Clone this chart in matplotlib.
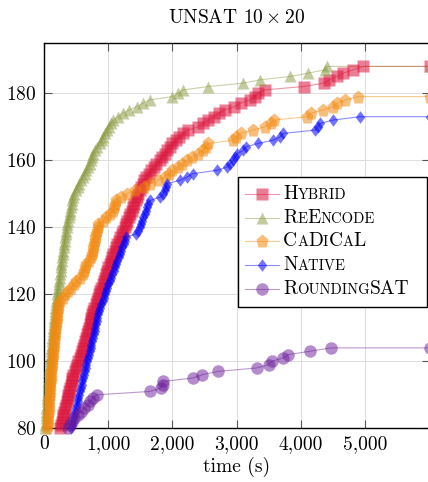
import matplotlib
matplotlib.use('Agg')
import matplotlib.pyplot as plt
from matplotlib.lines import Line2D
from matplotlib.patches import Rectangle
from matplotlib.offsetbox import DrawingArea, HPacker, TextArea, AnnotationBbox
from matplotlib.ticker import FuncFormatter

plt.rcParams['font.family'] = 'cmr10'
plt.rcParams['mathtext.fontset'] = 'cm'
plt.rcParams['axes.unicode_minus'] = False
plt.rcParams['axes.formatter.use_mathtext'] = True

TIMEOUT = 6000
START = 80  # solved-count of the first listed point (axis starts here)

# solve times (s) of the k-th solved instance, k = START, START+1, ...
hybrid_times = [255, 268, 281, 294, 307, 320, 333, 346, 360,
                372, 385, 397, 410, 422, 435, 447, 460,
                480, 500, 520, 540, 560, 578, 597, 615,
                630, 644, 658, 672, 686, 700, 714, 728, 742, 756, 770,
                788, 806, 824, 842, 860, 878, 897, 915,
                933, 951, 970, 988, 1006, 1025, 1043, 1062, 1080,
                1102, 1125, 1147, 1170, 1192, 1215,
                1235, 1256, 1277, 1298, 1319, 1340,
                1370, 1390, 1410, 1430, 1450, 1470, 1490, 1515, 1540, 1565,
                1590, 1630, 1670, 1710, 1750, 1800, 1840, 1880, 1920, 1960,
                2000, 2050, 2100, 2160, 2250, 2400, 2480, 2560, 2640, 2720,
                2820, 2960, 3060, 3200, 3280, 3330, 3440, 4040, 4350, 4440,
                4560, 4660, 4810, 4970]

reencode_times = [20, 24, 28, 31, 35, 38, 42, 46, 50, 53,
                  57, 61, 64, 68, 72, 76, 80, 84, 88, 93,
                  98, 103, 108, 115,
                  120, 126, 131, 136, 141, 146, 151, 156, 161, 166, 171, 176, 183, 190,
                  197, 205, 212, 219, 227, 234, 242, 250,
                  256, 262, 268, 274, 281, 287, 294, 300,
                  308, 316, 325, 333, 342, 351, 360,
                  369, 380, 391, 402, 413, 423, 434, 445, 455,
                  475, 500, 530, 555, 585, 610,
                  640, 665, 695, 720,
                  735, 752, 770,
                  800, 835, 875,
                  900, 925, 955, 980,
                  1010, 1045, 1080,
                  1150, 1230,
                  1330, 1450, 1545, 1650,
                  2000, 2090, 2170, 2560, 3100, 3360, 3830, 4110, 4380, 4410]

cadical_times = [55, 60, 64, 68, 72, 76, 79, 83, 86, 90,
                 93, 97, 100, 104, 108, 112, 116, 120, 125,
                 130, 135, 140, 146, 151, 156, 161, 165, 170, 175,
                 181, 187, 193, 199, 205, 211, 217, 222, 228,
                 260, 295, 330, 375,
                 420, 470, 505,
                 560, 610,
                 630, 645, 660,
                 700, 735,
                 750, 760, 770,
                 785, 795, 805, 815,
                 825, 838, 850,
                 920, 965,
                 1030, 1075,
                 1095, 1110, 1130,
                 1195, 1290,
                 1420, 1560, 1653, 1770, 1880, 1940, 2000, 2080, 2150, 2224,
                 2300, 2400, 2480, 2520, 2560, 2950, 2990, 3060, 3250, 3440,
                 3530, 3580, 4100, 4150, 4340, 4500, 4560, 4690, 4890]

native_times = [425, 440, 452, 465, 478, 490, 503, 515, 528, 540,
                553, 565, 578, 590, 603, 615, 628, 640, 653, 665,
                678, 690, 705, 720,
                732, 743, 755, 767, 778, 790, 800, 812, 823, 835, 845,
                862, 880, 897, 915, 932, 950, 968, 985,
                1005, 1025, 1045, 1068, 1090, 1110,
                1128, 1147, 1166, 1185, 1204, 1222, 1241, 1260, 1280,
                1435,
                1470, 1490, 1510, 1530, 1550, 1570, 1590, 1605, 1620,
                1655, 1810, 1860, 1880, 1900, 1915, 2120, 2230, 2320, 2700,
                2850, 2900, 2950, 2980, 3010, 3100, 3150, 3330, 3570, 3680,
                3720, 4220, 4260, 4300, 4500, 4920]

roundingsat_times = [380, 410, 440, 470, 530, 580, 625, 690, 720, 765,
                     830, 1653, 1820, 1850, 1860, 2317, 2466, 2715, 3310, 3504,
                     3546, 3726, 3804, 4141, 4468]

names = ['Hybrid', 'ReEncode', 'CaDiCaL', 'Native', 'RoundingSAT']
all_times = [hybrid_times, reencode_times, cadical_times, native_times, roundingsat_times]
colors = ['#dc143c', '#8a9a40', '#f28a10', '#0000ff', '#6a1b9a']
alphas = [0.55, 0.5, 0.55, 0.55, 0.5]
diamond = [(0, 1), (0.75, 0), (0, -1), (-0.75, 0)]
markers = ['s', '^', 'p', diamond, 'o']
msizes = [9.0, 9.0, 9.8, 9.0, 9.0]

fig = plt.figure(figsize=(4.28, 4.82), dpi=100)
ax = fig.add_axes([43.7 / 428, 53.7 / 482, 386 / 428, 385 / 482])

for times, color, a, mk, ms in zip(all_times, colors, alphas, markers, msizes):
    counts = list(range(START, START + len(times)))
    xs = times + [TIMEOUT]
    ys = counts + [counts[-1]]
    ax.plot(xs, ys, color=color, alpha=0.45, lw=0.8, zorder=2)
    ax.plot(xs, ys, ls='none', marker=mk, ms=ms, color=color, alpha=a,
            mec='none', clip_on=False, zorder=3)

ax.set_xlim(0, 6000)
ax.set_ylim(80, 194.9)
ax.set_xticks(range(0, 5001, 1000))
ax.set_yticks(range(80, 181, 20))
ax.xaxis.set_major_formatter(FuncFormatter(lambda v, p: f'{int(v):,}'))
ax.grid(True, color='#dddddd', lw=0.7, zorder=0)
ax.set_axisbelow(True)
ax.tick_params(direction='in', length=6, width=0.8, color='#555555',
               top=True, right=True, labelsize=14, pad=5)
for s in ax.spines.values():
    s.set_linewidth(1.0)

ax.set_xlabel('time (s)', fontsize=14, labelpad=3)
fig.text(0.5 * (43.7 + 429.7) / 428, 1 - 18 / 482, r'UNSAT $10\times 20$',
         fontsize=14, ha='center', va='center')

# legend with small caps labels
box = Rectangle((0.504, 0.316), 0.488, 0.336, transform=ax.transAxes,
                facecolor='white', edgecolor='black', lw=1.0, zorder=10,
                clip_on=False)
ax.add_patch(box)


def smallcaps(name, big=14, small=10.5):
    parts = []
    run = name[0]
    for ch in name[1:]:
        if ch.isupper() == run[-1].isupper():
            run += ch
        else:
            parts.append(run)
            run = ch
    parts.append(run)
    areas = [TextArea(p.upper(), textprops=dict(fontsize=big if p[0].isupper() else small))
             for p in parts]
    return HPacker(children=areas, align='baseline', pad=0, sep=0)


row_y = [0.608, 0.547, 0.4865, 0.4245, 0.3626]
for name, color, a, mk, ms, y in zip(names, colors, alphas, markers, msizes, row_y):
    da = DrawingArea(24.5, 12, 0, 0)
    da.add_artist(Line2D([0, 24.5], [6, 6], color=color, alpha=0.45, lw=0.8))
    da.add_artist(Line2D([12.25], [6], marker=mk, ms=ms, color=color, alpha=a, mec='none'))
    row = HPacker(children=[da, smallcaps(name)], align='center', pad=0, sep=3)
    ab = AnnotationBbox(row, (0.5215, y), xycoords='axes fraction', box_alignment=(0, 0.5),
                        frameon=False, pad=0, annotation_clip=False, zorder=11)
    ax.add_artist(ab)

fig.savefig('out.png', dpi=100)
